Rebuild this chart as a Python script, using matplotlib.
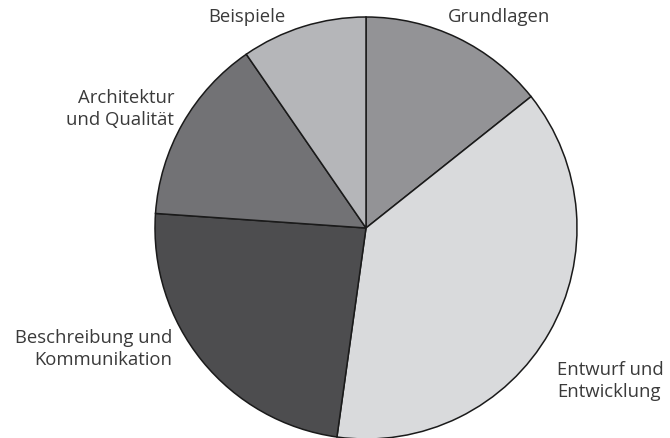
import matplotlib
matplotlib.use('Agg')
import matplotlib.pyplot as plt

labels = ['Grundlagen', 'Entwurf und\nEntwicklung', 'Beschreibung und\nKommunikation',
          'Architektur\nund Qualität', 'Beispiele']
shares = [14.3, 37.9, 23.9, 14.3, 9.6]
colors = ['#939396', '#d9dadc', '#4d4d4f', '#727275', '#b5b6b9']

plt.rcParams['font.family'] = ['Open Sans', 'DejaVu Sans']

fig = plt.figure(figsize=(6.7, 4.38), dpi=100)
ax = fig.add_axes([0, 0, 1, 1])
ax.pie(shares, colors=colors, startangle=90, counterclock=False,
       radius=211, center=(366, 210),
       wedgeprops=dict(edgecolor='#1a1a1a', linewidth=1.1))
ax.set_xlim(0, 670)
ax.set_ylim(0, 438)
ax.set_aspect('equal')
ax.axis('off')

# label positions in pixel coordinates (layout)
pos = [(499, 421, 'center', 'center'),
       (557, 57, 'left', 'center'),
       (172, 89, 'right', 'center'),
       (174, 329, 'right', 'center'),
       (247, 421, 'center', 'center')]
for lab, (x, y, ha, va) in zip(labels, pos):
    ax.text(x, y, lab, ha=ha, va=va, fontsize=13.3, color='#3a3a3a',
            linespacing=1.34, multialignment=ha)

fig.savefig('out.png', dpi=100)
